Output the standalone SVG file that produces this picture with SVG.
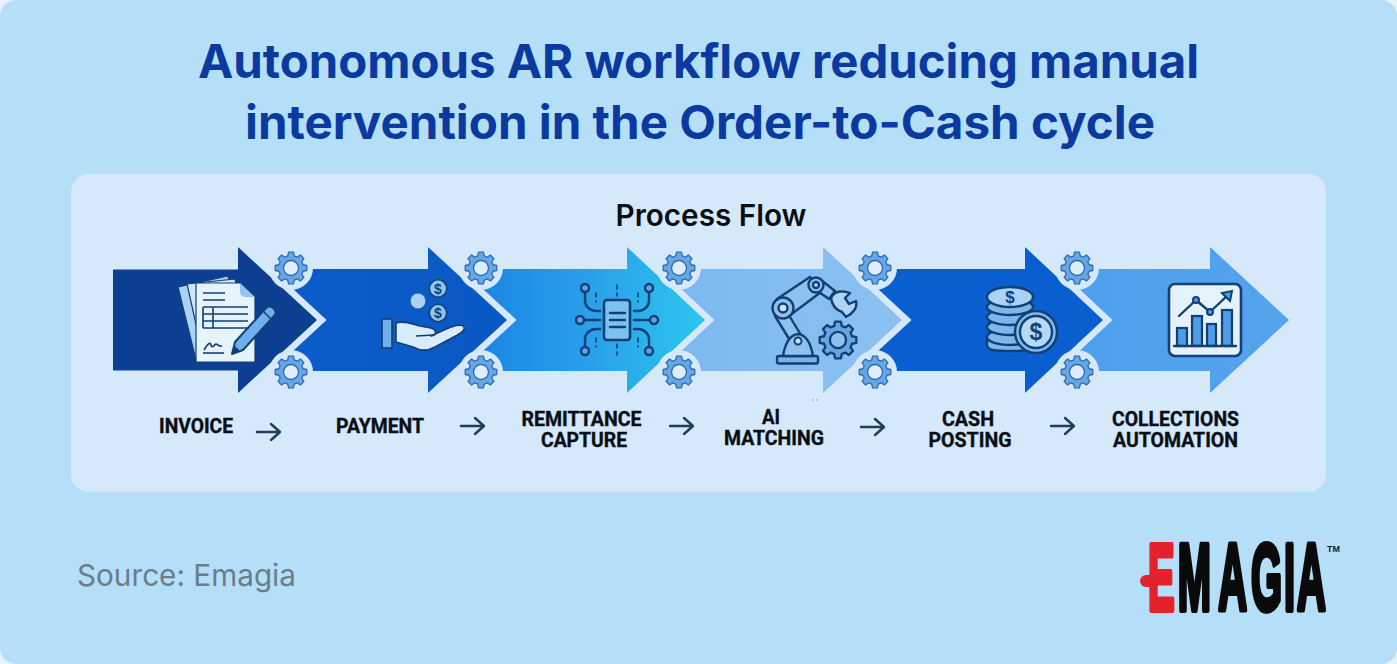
<svg xmlns="http://www.w3.org/2000/svg" xmlns:xlink="http://www.w3.org/1999/xlink" width="1397" height="664" viewBox="0 0 1397 664">
<style>
.title{font-family:"Inter","Liberation Sans",sans-serif;font-weight:700;font-size:47px;fill:#0a3a9f;text-anchor:middle}
.lbl{font-family:"Roboto","Liberation Sans",sans-serif;font-weight:700;font-size:21px;fill:#0a0f16;stroke:#0a0f16;stroke-width:.4;text-anchor:middle}
.ar{stroke:#d5e9fb;stroke-width:13;stroke-linejoin:miter;paint-order:stroke}
.ink{fill:none;stroke:#123f74;stroke-width:2.4;stroke-linecap:round;stroke-linejoin:round}
.inkf{stroke:#123f74;stroke-width:2.4;stroke-linecap:round;stroke-linejoin:round}
.conn{fill:none;stroke:#1d3f5c;stroke-width:2.4;stroke-linecap:round;stroke-linejoin:round}
.coin{font-family:"Liberation Sans",sans-serif;font-weight:700;fill:#123f74;text-anchor:middle}
</style>
<defs>
<linearGradient id="g2" x1="0" x2="1" y1="0" y2="0"><stop offset="0" stop-color="#0b5ccb"/><stop offset="1" stop-color="#0a58c2"/></linearGradient>
<linearGradient id="g3" x1="0" x2="1" y1="0" y2="0"><stop offset="0" stop-color="#1b86e4"/><stop offset="0.5" stop-color="#2aa0ea"/><stop offset="1" stop-color="#2cc6ee"/></linearGradient>
<linearGradient id="g4" x1="0" x2="1" y1="0" y2="0"><stop offset="0" stop-color="#7cb8f0"/><stop offset="1" stop-color="#8cc1f0"/></linearGradient>
<linearGradient id="g6" x1="0" x2="1" y1="0" y2="0"><stop offset="0" stop-color="#4c9fee"/><stop offset="1" stop-color="#56a3ec"/></linearGradient>
<g id="gear">
<circle r="22" fill="#d5e9fb"/>
<polygon fill="#66a6e4" stroke="#2e6bb3" stroke-width="1.3" stroke-linejoin="round" points="12.07,-3.24 15.8,-2.5 15.8,2.5 12.07,3.24 10.83,6.25 12.94,9.4 9.4,12.94 6.25,10.83 3.24,12.07 2.5,15.8 -2.5,15.8 -3.24,12.07 -6.25,10.83 -9.4,12.94 -12.94,9.4 -10.83,6.25 -12.07,3.24 -15.8,2.5 -15.8,-2.5 -12.07,-3.24 -10.83,-6.25 -12.94,-9.4 -9.4,-12.94 -6.25,-10.83 -3.24,-12.07 -2.5,-15.8 2.5,-15.8 3.24,-12.07 6.25,-10.83 9.4,-12.94 12.94,-9.4 10.83,-6.25"/>
<circle r="7.5" fill="#dceefc" stroke="#2e6bb3" stroke-width="1.3"/>
</g>
</defs>
<rect width="1397" height="664" fill="#e6f2fb"/>
<rect width="1397" height="664" rx="16" fill="#b5dff8"/>
<rect x="71" y="174" width="1255" height="318" rx="18" fill="#d5e9fb"/>
<text class="title" x="698.500" y="78" textLength="1001" lengthAdjust="spacingAndGlyphs">Autonomous AR workflow reducing manual</text>
<text class="title" x="700" y="139" textLength="910" lengthAdjust="spacingAndGlyphs">intervention in the Order-to-Cash cycle</text>
<text x="711" y="226" font-family="Inter, 'Liberation Sans', sans-serif" font-weight="600" font-size="30" fill="#0b0f14" text-anchor="middle" textLength="191" lengthAdjust="spacingAndGlyphs">Process Flow</text>

<g id="node-collections">
<polygon points="1060,269 1210,269 1210,247 1289,320 1210,393 1210,371 1060,371" fill="url(#g6)"/>
<rect x="1169" y="284" width="72" height="72" rx="6" fill="#e4f2fc" stroke="#123f74" stroke-width="2.6"/>
<g fill="#4f9be4" stroke="#123f74" stroke-width="2.2">
<rect x="1177" y="328" width="10" height="18"/><rect x="1192" y="316" width="10" height="30"/><rect x="1207" y="324" width="9" height="22"/><rect x="1222" y="310" width="10" height="36"/>
</g>
<path class="ink" d="M1174,346H1236"/>
<path class="ink" d="M1179,316L1196,300L1210,312L1228,295"/>
<polygon points="1232,291 1222,293 1230,301" fill="#4f9be4" stroke="#123f74" stroke-width="2"/>
<circle cx="1196" cy="300" r="3" fill="#4f9be4" stroke="#123f74" stroke-width="2"/><circle cx="1210" cy="312" r="3" fill="#4f9be4" stroke="#123f74" stroke-width="2"/>
<text class="lbl" x="1175.500" y="426" textLength="127" lengthAdjust="spacingAndGlyphs">COLLECTIONS</text>
<text class="lbl" x="1175.500" y="447" textLength="125" lengthAdjust="spacingAndGlyphs">AUTOMATION</text>
</g>

<g id="node-cash">
<polygon class="ar" points="860,269 1025,269 1025,247 1103,320 1025,393 1025,371 860,371" fill="#0a5fd0"/>
<g fill="#7db7ec" class="inkf">
<path d="M987,337V345C987,351 998,351 1010,351C1022,351 1033,351 1033,345V337Z"/>
<ellipse cx="1010" cy="337" rx="23" ry="8"/>
<ellipse cx="1010" cy="327" rx="23" ry="8"/>
<ellipse cx="1010" cy="317" rx="23" ry="8"/>
<ellipse cx="1010" cy="307" rx="23" ry="8"/>
<ellipse cx="1010" cy="297" rx="23" ry="10" fill="#a9d2f4"/>
<circle cx="1036" cy="332" r="21" fill="#7db7ec"/>
<circle cx="1036" cy="332" r="16" fill="#b5d9f6"/>
</g>
<text class="coin" x="1010" y="303" font-size="17">$</text>
<text class="coin" x="1036" y="340" font-size="23" font-weight="400">$</text>
<text class="lbl" x="968" y="426" textLength="52" lengthAdjust="spacingAndGlyphs">CASH</text>
<text class="lbl" x="970" y="447" textLength="83" lengthAdjust="spacingAndGlyphs">POSTING</text>
</g>

<g id="node-ai-matching">
<polygon class="ar" points="680,269 823,269 823,247 902,320 823,393 823,371 680,371" fill="url(#g4)"/>
<g class="inkf" fill="#8fc1ef">
<rect x="777" y="356" width="41" height="7.500" rx="2" fill="#7db3e6"/>
<path d="M775,316L787,312L804,340L791,342Z"/>
<path d="M783,356C785,344 789,335 798,334C807,335 811,344 813,356Z"/>
<path d="M777,299L810,277L821,292L789,316Z"/>
<path d="M821,280L835,291L829,299L816,290Z"/>
<path d="M831,298C834,291 842,290 850,293L845,298L849,304L856,301C858,308 852,314 846,317L842,312C836,310 832,305 831,298Z" fill="#aed4f4"/>
<circle cx="783" cy="308" r="10.500" fill="#8fc1ef"/><circle cx="783" cy="308" r="4.500" fill="#c6e1f8"/>
<circle cx="816" cy="285" r="7.500" fill="#8fc1ef"/><circle cx="816" cy="285" r="3" fill="#c6e1f8"/>
<circle cx="798" cy="341" r="3.500" fill="#c6e1f8" stroke-width="2"/>
</g>
<g transform="translate(838,340) scale(1.16)">
<polygon fill="#66a6e4" stroke="#123f74" stroke-width="2" stroke-linejoin="round" points="12.07,-3.24 15.8,-2.5 15.8,2.5 12.07,3.24 10.83,6.25 12.94,9.4 9.4,12.94 6.25,10.83 3.24,12.07 2.5,15.8 -2.5,15.8 -3.24,12.07 -6.25,10.83 -9.4,12.94 -12.94,9.4 -10.83,6.25 -12.07,3.24 -15.8,2.5 -15.8,-2.5 -12.07,-3.24 -10.83,-6.25 -12.94,-9.4 -9.4,-12.94 -6.25,-10.83 -3.24,-12.07 -2.5,-15.8 2.5,-15.8 3.24,-12.07 6.25,-10.83 9.4,-12.94 12.94,-9.4 10.83,-6.25"/>
<circle r="7" fill="#8fc1ef" stroke="#123f74" stroke-width="2"/>
</g>
<path d="M812,400H814M816,400H818" stroke="#8b9aa8" stroke-width="1"/>
<text class="lbl" x="771" y="424" textLength="18" lengthAdjust="spacingAndGlyphs">AI</text>
<text class="lbl" x="774" y="445" textLength="100" lengthAdjust="spacingAndGlyphs">MATCHING</text>
</g>

<g id="node-remittance">
<polygon class="ar" points="480,269 627,269 627,247 705,320 627,393 627,371 480,371" fill="url(#g3)"/>
<rect x="604" y="300" width="26" height="40" rx="3" fill="#7cc2f0" stroke="#123f74" stroke-width="2.6"/>
<path class="ink" d="M610,313H625M610,320H625M610,327H625"/>
<g class="ink">
<path d="M585,292V301C585,306 590,311 596,311H600"/>
<path d="M649,292V301C649,306 644,311 638,311H634"/>
<path d="M584,320H600M634,320H650"/>
<path d="M585,347V339C585,334 590,329 596,329H600"/>
<path d="M649,347V339C649,334 644,329 638,329H634"/>
<path d="M617,285V296M617,344V355M596,293V302M638,293V302M596,338V347M638,338V347" stroke-dasharray="4 4" stroke-width="1.6"/>
</g>
<g fill="#5aa5e6" class="inkf"><circle cx="585" cy="288" r="4"/><circle cx="649" cy="288" r="4"/><circle cx="580" cy="320" r="4"/><circle cx="654" cy="320" r="4"/><circle cx="585" cy="351" r="4"/><circle cx="649" cy="351" r="4"/></g>
<text class="lbl" x="581.500" y="426" textLength="120" lengthAdjust="spacingAndGlyphs">REMITTANCE</text>
<text class="lbl" x="584" y="447" textLength="86" lengthAdjust="spacingAndGlyphs">CAPTURE</text>
</g>

<g id="node-payment">
<polygon class="ar" points="280,269 428,269 428,247 507,320 428,393 428,371 280,371" fill="url(#g2)"/>
<rect x="382" y="319" width="10" height="29" fill="#6fb0ec" stroke="#123f74" stroke-width="1.6"/>
<path d="M396,323C404,320 412,324 420,326L431,328C437,330 437,335 431,336L444,330C452,326 462,323 464,327C466,331 458,335 450,339L435,347C428,351 420,351 413,347L396,342Z" fill="#d8ecfb" stroke="#123f74" stroke-width="1.6" stroke-linejoin="round"/>
<path d="M416,336L434,335" stroke="#123f74" stroke-width="1.6" fill="none"/>
<circle cx="418" cy="301" r="8" fill="#a9d2f4" stroke="#1f5fb0" stroke-width="1.2"/>
<circle cx="438" cy="288.500" r="8.700" fill="#8fc3f0" stroke="#123f74" stroke-width="1.6"/>
<circle cx="438" cy="313" r="8.700" fill="#8fc3f0" stroke="#123f74" stroke-width="1.6"/>
<text class="coin" x="438" y="293.500" font-size="14" font-weight="400">$</text>
<text class="coin" x="438" y="318" font-size="14" font-weight="400">$</text>
<text class="lbl" x="380" y="433" textLength="88" lengthAdjust="spacingAndGlyphs">PAYMENT</text>
</g>

<g id="node-invoice">
<polygon class="ar" points="113,269.500 238,269.500 238,247 317,320 238,393 238,370.500 113,370.500" fill="#0c3f92"/>
<path d="M178,287L228,276L240,350L196,360Z" fill="#a9d2f4" stroke="#123f74" stroke-width="1.2" stroke-linejoin="round"/>
<path d="M187,284L235,279L250,350L204,360Z" fill="#cfe6f9" stroke="#123f74" stroke-width="1.2" stroke-linejoin="round"/>
<path d="M196,283H240L255,297V362H196Z" fill="#e6f3fc" stroke="#123f74" stroke-width="1.2" stroke-linejoin="round"/>
<path d="M240,283V292C240,295 243,297 246,297H255Z" fill="#8fc3f0"/>
<g fill="none" stroke="#123f74" stroke-width="1.6">
<path d="M203,293H225M203,300H225"/>
<path d="M203,307H248M203,314H248M203,321H248M203,328H248M203,307V328M213,307V328"/>
<path d="M203,353H224"/>
<path d="M204,350C207,345 210,341 211,345C212,349 214,345 216,344C218,344 218,347 222,346"/>
</g>
<path d="M232,354L235,342L266,308C268,306 272,306 274,309C276,311 276,314 274,316L243,350Z" fill="#6fb0ec" stroke="#123f74" stroke-width="2" stroke-linejoin="round"/>
<path d="M263,311L271,319" stroke="#123f74" stroke-width="1.6"/>
<path d="M232,354L235,346L240,351Z" fill="#123f74"/>
<text class="lbl" x="196" y="433" textLength="74" lengthAdjust="spacingAndGlyphs">INVOICE</text>
</g>

<g id="gears">
<use xlink:href="#gear" href="#gear" x="291" y="268"/><use xlink:href="#gear" href="#gear" x="291" y="372"/>
<use xlink:href="#gear" href="#gear" x="481" y="268"/><use xlink:href="#gear" href="#gear" x="481" y="372"/>
<use xlink:href="#gear" href="#gear" x="679" y="268"/><use xlink:href="#gear" href="#gear" x="679" y="372"/>
<use xlink:href="#gear" href="#gear" x="875" y="268"/><use xlink:href="#gear" href="#gear" x="875" y="372"/>
<use xlink:href="#gear" href="#gear" x="1077" y="268"/><use xlink:href="#gear" href="#gear" x="1077" y="372"/>
</g>

<g id="connectors">
<path class="conn" d="M257,432H279M271,424L280,432L271,440"/>
<path class="conn" d="M461,426H483M475,418L484,426L475,434"/>
<path class="conn" d="M670,426H692M684,418L693,426L684,434"/>
<path class="conn" d="M861,427H883M875,419L884,427L875,435"/>
<path class="conn" d="M1051,426H1073M1065,418L1074,426L1065,434"/>
</g>

<text x="77" y="586" font-family="Inter, 'Liberation Sans', sans-serif" font-size="30" fill="#6b7d8b" textLength="219" lengthAdjust="spacingAndGlyphs">Source: Emagia</text>

<g id="logo">
<rect x="1140" y="575" width="20" height="12" rx="6" fill="#e5212b"/>
<text transform="translate(1148,610) scale(0.42,1)" x="0 71 167 245 324 355" y="0" font-family="'Liberation Sans',sans-serif" font-weight="700" font-size="95" stroke-width="6" stroke-linejoin="round" fill="#0a0a0a" stroke="#0a0a0a"><tspan fill="#e5212b" stroke="#e5212b">E</tspan>MAGIA</text>
<text x="1327" y="552" font-family="'Liberation Sans',sans-serif" font-weight="700" font-size="9" fill="#1a1a1a">TM</text>
</g>
</svg>
